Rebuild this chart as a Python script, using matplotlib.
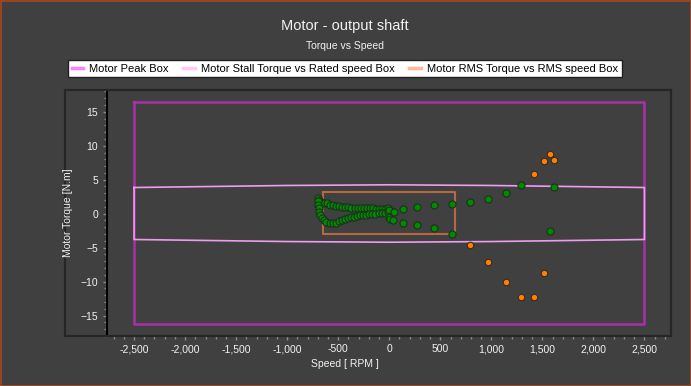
import matplotlib
matplotlib.use("Agg")
import matplotlib.pyplot as plt
from matplotlib.patches import Rectangle
from matplotlib.lines import Line2D
from matplotlib.ticker import MultipleLocator, FuncFormatter

# box outlines (speed in RPM, torque in N.m)
peak_speed = [-2500, 2500, 2500, -2500, -2500]
peak_torque = [16.5, 16.5, -16.3, -16.3, 16.5]

stall_speed = [-2500, -2000, -1500, -1000, -500, 0, 500, 1000, 1500, 2000, 2500,
               2500, 2000, 1500, 1000, 500, 0, -500, -1000, -1500, -2000, -2500, -2500]
stall_torque = [3.85, 3.95, 4.05, 4.15, 4.2, 4.25, 4.2, 4.15, 4.05, 3.95, 3.85,
                -3.8, -3.9, -4.0, -4.1, -4.15, -4.2, -4.15, -4.1, -4.0, -3.9, -3.8, 3.85]

rms_speed = [-650, 640, 640, -650, -650]
rms_torque = [3.2, 3.2, -2.95, -2.95, 3.2]

# operating points inside the stall box
green_speed = [-700, -690, -670, -640, -610, -580, -550, -520, -490, -460, -430, -400,
               -370, -340, -310, -280, -250, -220, -190, -160, -130, -100, -70, -40, -10,
               -700, -695, -690, -685, -675, -660, -640, -615, -585, -555, -525, -495,
               -465, -435, -405, -375, -345, -315, -285, -255, -225, -195, -165, -135,
               -105, -75, -45, -15,
               0, 2, 5, 42, 36, 130, 270, 434, 617, 793, 966, 1143, 1294, 1618,
               130, 270, 434, 617, 1578]
green_torque = [2.3, 2.0, 1.75, 1.6, 1.5, 1.35, 1.25, 1.15, 1.1, 1.0, 0.95, 0.95,
                0.9, 0.9, 0.85, 0.85, 0.85, 0.8, 0.8, 0.8, 0.75, 0.75, 0.75, 0.75, 0.8,
                1.8, 1.3, 0.8, 0.3, -0.2, -0.6, -1.0, -1.25, -1.4, -1.4, -1.3, -1.15,
                -1.0, -0.85, -0.7, -0.55, -0.45, -0.35, -0.25, -0.2, -0.15, -0.1, -0.05, 0.0,
                0.05, 0.1, 0.15, 0.2,
                0.6, -0.5, -0.8, 0.24, -0.95, 0.64, 0.98, 1.27, 1.42, 1.7, 2.15, 3.0, 4.2, 3.9,
                -1.44, -1.69, -2.18, -2.97, -2.5]

# operating points outside the stall box
orange_speed = [789, 966, 1143, 1290, 1418, 1516, 1418, 1516, 1575, 1617]
orange_torque = [-4.6, -7.05, -10.0, -12.25, -12.25, -8.7, 5.9, 7.75, 8.85, 7.9]

plt.rcParams['font.family'] = ['Liberation Sans', 'DejaVu Sans']
bg = "#404040"
txt = "#f2f2f2"

fig = plt.figure(figsize=(6.91, 3.86), dpi=100, facecolor=bg)
W, H = 691, 386

# outer border of the image and the chart frame
fig.patches.append(Rectangle((0.5 / W, 0.5 / H), 1 - 1 / W, 1 - 1 / H, transform=fig.transFigure,
                             fill=False, edgecolor="#a8481c", lw=1.2))
fig.patches.append(Rectangle((65 / W, 1 - 336 / H), (671 - 65) / W, (336 - 90) / H,
                             transform=fig.transFigure, fill=False, edgecolor="#262626", lw=1.5))

ax = fig.add_axes([107 / W, 1 - 336 / H, (671 - 107) / W, (336 - 90) / H])
ax.set_facecolor(bg)

ax.plot(peak_speed, peak_torque, color="#a830a8", lw=1.8)
ax.plot(stall_speed, stall_torque, color="#ee9cee", lw=1.2)
ax.plot(rms_speed, rms_torque, color="#b8683e", lw=1.5)
ax.scatter(green_speed, green_torque, s=26, color="#008a00", edgecolors="#1c301c", lw=0.8, zorder=3)
ax.scatter(orange_speed, orange_torque, s=22, color="#ff8000", edgecolors="#3a2a20", lw=0.8, zorder=3)

ax.set_xlim(-2765, 2760)
ax.set_ylim(-18, 18.2)
ax.xaxis.set_major_locator(MultipleLocator(500))
ax.xaxis.set_minor_locator(MultipleLocator(100))
ax.yaxis.set_major_locator(MultipleLocator(5))
ax.yaxis.set_minor_locator(MultipleLocator(1))
ax.xaxis.set_major_formatter(FuncFormatter(lambda v, p: f"{int(v):,}"))
ax.tick_params(which="both", colors="#8a8a8a", labelcolor=txt, labelsize=7.5, direction="out")
ax.tick_params(which="major", length=3, width=1)
ax.tick_params(which="minor", length=2, width=1)
ax.tick_params(axis="x", pad=3)

for s in ["top", "right", "bottom"]:
    ax.spines[s].set_color("#262626")
    ax.spines[s].set_linewidth(1.5)
ax.spines["left"].set_color("#000000")
ax.spines["left"].set_linewidth(1.5)

fig.text(345 / W, 1 - 364 / H, "Speed [ RPM ]", ha="center", va="center", color=txt, fontsize=7.5)
fig.text(68 / W, 1 - 213 / H, "Motor Torque [N.m]", ha="center", va="center", rotation=90,
         color=txt, fontsize=7.5)
fig.text(345 / W, 1 - 26 / H, "Motor - output shaft", ha="center", va="center", color=txt, fontsize=10.5)
fig.text(345 / W, 1 - 46 / H, "Torque vs Speed", ha="center", va="center", color=txt, fontsize=7.5)

handles = [Line2D([], [], color="#ff80ff", lw=2.5),
           Line2D([], [], color="#ffc8ff", lw=2.5),
           Line2D([], [], color="#ffb898", lw=2.5)]
labels = ["Motor Peak Box", "Motor Stall Torque vs Rated speed Box",
          "Motor RMS Torque vs RMS speed Box"]
leg = fig.legend(handles, labels, loc="center", bbox_to_anchor=(345 / W, 1 - 68.5 / H), ncol=3,
                 fontsize=8, frameon=True, fancybox=False, handlelength=1.0, handletextpad=0.6,
                 columnspacing=1.3, borderpad=0.35, edgecolor="#202020", facecolor="white")
leg.get_frame().set_linewidth(1.0)
leg.get_frame().set_alpha(1)

fig.savefig("out.png", dpi=100, facecolor=bg)
